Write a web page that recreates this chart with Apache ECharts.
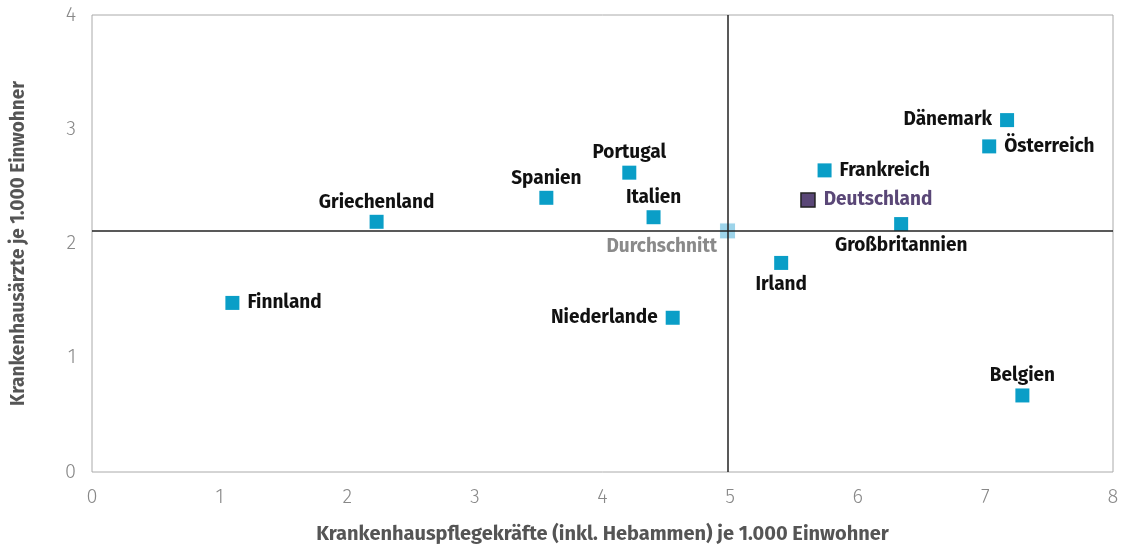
<!DOCTYPE html>
<html>
<head>
<meta charset="utf-8">
<script src="https://cdn.jsdelivr.net/npm/echarts@6/dist/echarts.min.js"></script>
<style>
  html, body { margin: 0; padding: 0; background: #fff; }
  #chart { width: 1128px; height: 547px; }
</style>
</head>
<body>
<div id="chart"></div>
<script>
// Länder und Werte (je 1.000 Einwohner)
const countries = ['Finnland', 'Griechenland', 'Spanien', 'Portugal', 'Italien', 'Niederlande',
  'Irland', 'Frankreich', 'Deutschland', 'Großbritannien', 'Dänemark', 'Österreich', 'Belgien']
const nurses = [1.10, 2.23, 3.56, 4.21, 4.40, 4.55, 5.40, 5.74, 5.61, 6.34, 7.17, 7.03, 7.29]
const doctors = [1.48, 2.19, 2.40, 2.62, 2.23, 1.35, 1.83, 2.64, 2.38, 2.17, 3.08, 2.85, 0.67]

// Durchschnitt
const avgLabel = 'Durchschnitt'
const avgNurses = 4.98
const avgDoctors = 2.11

const xTicks = [0, 1, 2, 3, 4, 5, 6, 7, 8]
const yTicks = [0, 1, 2, 3, 4]

// Beschriftungsposition je Land
const labelPos = {
  'Finnland': 'right',
  'Griechenland': 'top',
  'Spanien': 'top',
  'Portugal': 'top',
  'Italien': 'top',
  'Niederlande': 'left',
  'Irland': 'bottom',
  'Frankreich': 'right',
  'Deutschland': 'right',
  'Großbritannien': 'bottom',
  'Dänemark': 'left',
  'Österreich': 'right',
  'Belgien': 'top'
}
const labelDist = { top: 3, bottom: 5, left: 8, right: 8 }

const font = '"Fira Sans", "Noto Sans", "Open Sans", sans-serif'
const blue = '#0a9ec7'
const purple = '#5a4777'

const chart = echarts.init(document.getElementById('chart'))

const points = countries.map((name, i) => {
  const isDE = name === 'Deutschland'
  return {
    name: name,
    value: [nurses[i], doctors[i]],
    itemStyle: isDE
      ? { color: purple, borderColor: '#222', borderWidth: 1.5, opacity: 1 }
      : { color: blue, opacity: 1 },
    label: {
      show: true,
      position: labelPos[name],
      distance: labelDist[labelPos[name]],
      formatter: '{b}',
      color: isDE ? purple : '#111',
      fontFamily: font,
      fontWeight: 'bold',
      fontSize: 19
    }
  }
})

const option = {
  animation: false,
  grid: {
    left: 92,
    right: 15,
    top: 15,
    bottom: 75,
    outerBoundsMode: 'none',
    show: true,
    borderColor: '#aaa',
    borderWidth: 1
  },
  xAxis: {
    type: 'value',
    min: xTicks[0],
    max: xTicks[xTicks.length - 1],
    interval: 1,
    name: 'Krankenhauspflegekräfte (inkl. Hebammen) je 1.000 Einwohner',
    nameLocation: 'middle',
    nameGap: 52,
    nameTextStyle: { color: '#555', fontFamily: font, fontWeight: 'bold', fontSize: 20 },
    axisLine: { show: false },
    axisTick: { show: false },
    splitLine: { show: false },
    axisLabel: { color: '#888', fontFamily: font, fontWeight: 300, fontSize: 20, margin: 15 }
  },
  yAxis: {
    type: 'value',
    min: yTicks[0],
    max: yTicks[yTicks.length - 1],
    interval: 1,
    name: 'Krankenhausärzte je 1.000 Einwohner',
    nameLocation: 'middle',
    nameGap: 64,
    nameTextStyle: { color: '#555', fontFamily: font, fontWeight: 'bold', fontSize: 19 },
    axisLine: { show: false },
    axisTick: { show: false },
    splitLine: { show: false },
    axisLabel: { color: '#888', fontFamily: font, fontWeight: 300, fontSize: 20, margin: 16 }
  },
  series: [
    {
      // Durchschnittslinien
      type: 'scatter',
      data: [],
      z: 1,
      markLine: {
        silent: true,
        symbol: 'none',
        label: { show: false },
        lineStyle: { color: '#222', width: 1.5, type: 'solid' },
        data: [
          { xAxis: avgNurses },
          { yAxis: avgDoctors }
        ]
      }
    },
    {
      type: 'scatter',
      symbol: 'rect',
      symbolSize: 14,
      z: 3,
      data: points
    },
    {
      type: 'scatter',
      symbol: 'rect',
      symbolSize: 16,
      z: 4,
      data: [{
        name: avgLabel,
        value: [avgNurses, avgDoctors],
        itemStyle: { color: '#9dd4ea', borderColor: '#fff', borderWidth: 1, opacity: 1 },
        label: {
          show: true,
          position: 'left',
          align: 'right',
          offset: [4, 16],
          distance: 6,
          formatter: '{b}',
          color: '#8a8a8a',
          fontFamily: font,
          fontWeight: 'bold',
          fontSize: 19
        }
      }]
    }
  ]
}

chart.setOption(option)
</script>
</body>
</html>
